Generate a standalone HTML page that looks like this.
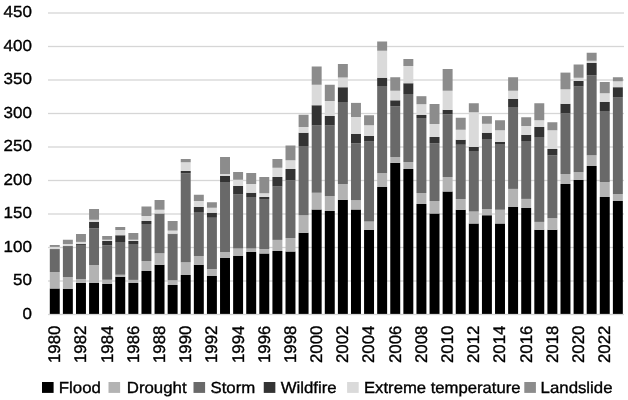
<!DOCTYPE html>
<html><head><meta charset="utf-8"><title>chart</title>
<style>
html,body{margin:0;padding:0;background:#fff;}
body{width:628px;height:400px;overflow:hidden;position:relative;font-family:"Liberation Sans",sans-serif;}
svg{position:absolute;left:0;top:0;will-change:transform;}
text{font-family:"Liberation Sans",sans-serif;font-size:16px;fill:#000;stroke:#000;stroke-width:0.35px;text-rendering:geometricPrecision;}
</style></head><body>
<svg width="628" height="400" viewBox="0 0 628 400">
<rect x="0" y="0" width="628" height="400" fill="#fff"/>
<rect x="48" y="313.85" width="576" height="1.3" fill="#d6d6d6"/>
<text transform="translate(31.9,318.75) scale(1.06,1)" text-anchor="end">0</text>
<rect x="48" y="280.35" width="576" height="1.3" fill="#d6d6d6"/>
<text transform="translate(31.9,285.25) scale(1.06,1)" text-anchor="end">50</text>
<rect x="48" y="246.85" width="576" height="1.3" fill="#d6d6d6"/>
<text transform="translate(31.9,251.75) scale(1.06,1)" text-anchor="end">100</text>
<rect x="48" y="213.35" width="576" height="1.3" fill="#d6d6d6"/>
<text transform="translate(31.9,218.25) scale(1.06,1)" text-anchor="end">150</text>
<rect x="48" y="179.85" width="576" height="1.3" fill="#d6d6d6"/>
<text transform="translate(31.9,184.75) scale(1.06,1)" text-anchor="end">200</text>
<rect x="48" y="146.35" width="576" height="1.3" fill="#d6d6d6"/>
<text transform="translate(31.9,151.25) scale(1.06,1)" text-anchor="end">250</text>
<rect x="48" y="112.85" width="576" height="1.3" fill="#d6d6d6"/>
<text transform="translate(31.9,117.75) scale(1.06,1)" text-anchor="end">300</text>
<rect x="48" y="79.35" width="576" height="1.3" fill="#d6d6d6"/>
<text transform="translate(31.9,84.25) scale(1.06,1)" text-anchor="end">350</text>
<rect x="48" y="45.85" width="576" height="1.3" fill="#d6d6d6"/>
<text transform="translate(31.9,50.75) scale(1.06,1)" text-anchor="end">400</text>
<rect x="48" y="12.35" width="576" height="1.3" fill="#d6d6d6"/>
<text transform="translate(31.9,17.25) scale(1.06,1)" text-anchor="end">450</text>
<rect x="49.80" y="288.50" width="9.95" height="25.40" fill="#000000"/>
<rect x="49.80" y="272.00" width="9.95" height="16.50" fill="#b3b3b3"/>
<rect x="49.80" y="249.20" width="9.95" height="22.80" fill="#696969"/>
<rect x="49.80" y="249.00" width="9.95" height="0.20" fill="#333333"/>
<rect x="49.80" y="246.90" width="9.95" height="2.10" fill="#dadada"/>
<rect x="49.80" y="245.00" width="9.95" height="1.90" fill="#8c8c8c"/>
<text transform="translate(60.17,363.0) rotate(-90) scale(1.05,1.05)">1980</text>
<rect x="62.89" y="289.00" width="9.95" height="24.90" fill="#000000"/>
<rect x="62.89" y="277.00" width="9.95" height="12.00" fill="#b3b3b3"/>
<rect x="62.89" y="246.10" width="9.95" height="30.90" fill="#696969"/>
<rect x="62.89" y="246.00" width="9.95" height="0.10" fill="#333333"/>
<rect x="62.89" y="244.00" width="9.95" height="2.00" fill="#dadada"/>
<rect x="62.89" y="239.75" width="9.95" height="4.25" fill="#8c8c8c"/>
<rect x="75.99" y="282.90" width="9.95" height="31.00" fill="#000000"/>
<rect x="75.99" y="279.00" width="9.95" height="3.90" fill="#b3b3b3"/>
<rect x="75.99" y="244.90" width="9.95" height="34.10" fill="#696969"/>
<rect x="75.99" y="244.00" width="9.95" height="0.90" fill="#333333"/>
<rect x="75.99" y="241.90" width="9.95" height="2.10" fill="#dadada"/>
<rect x="75.99" y="234.00" width="9.95" height="7.90" fill="#8c8c8c"/>
<text transform="translate(86.36,363.0) rotate(-90) scale(1.05,1.05)">1982</text>
<rect x="89.09" y="282.75" width="9.95" height="31.15" fill="#000000"/>
<rect x="89.09" y="265.00" width="9.95" height="17.75" fill="#b3b3b3"/>
<rect x="89.09" y="228.30" width="9.95" height="36.70" fill="#696969"/>
<rect x="89.09" y="222.00" width="9.95" height="6.30" fill="#333333"/>
<rect x="89.09" y="219.75" width="9.95" height="2.25" fill="#dadada"/>
<rect x="89.09" y="209.00" width="9.95" height="10.75" fill="#8c8c8c"/>
<rect x="102.18" y="284.00" width="9.95" height="29.90" fill="#000000"/>
<rect x="102.18" y="279.75" width="9.95" height="4.25" fill="#b3b3b3"/>
<rect x="102.18" y="245.25" width="9.95" height="34.50" fill="#696969"/>
<rect x="102.18" y="241.00" width="9.95" height="4.25" fill="#333333"/>
<rect x="102.18" y="239.75" width="9.95" height="1.25" fill="#dadada"/>
<rect x="102.18" y="236.00" width="9.95" height="3.75" fill="#8c8c8c"/>
<text transform="translate(112.56,363.0) rotate(-90) scale(1.05,1.05)">1984</text>
<rect x="115.28" y="276.75" width="9.95" height="37.15" fill="#000000"/>
<rect x="115.28" y="274.75" width="9.95" height="2.00" fill="#b3b3b3"/>
<rect x="115.28" y="242.00" width="9.95" height="32.75" fill="#696969"/>
<rect x="115.28" y="235.25" width="9.95" height="6.75" fill="#333333"/>
<rect x="115.28" y="230.00" width="9.95" height="5.25" fill="#dadada"/>
<rect x="115.28" y="227.00" width="9.95" height="3.00" fill="#8c8c8c"/>
<rect x="128.37" y="282.75" width="9.95" height="31.15" fill="#000000"/>
<rect x="128.37" y="279.90" width="9.95" height="2.85" fill="#b3b3b3"/>
<rect x="128.37" y="244.00" width="9.95" height="35.90" fill="#696969"/>
<rect x="128.37" y="241.00" width="9.95" height="3.00" fill="#333333"/>
<rect x="128.37" y="239.75" width="9.95" height="1.25" fill="#dadada"/>
<rect x="128.37" y="233.00" width="9.95" height="6.75" fill="#8c8c8c"/>
<text transform="translate(138.75,363.0) rotate(-90) scale(1.05,1.05)">1986</text>
<rect x="141.47" y="271.00" width="9.95" height="42.90" fill="#000000"/>
<rect x="141.47" y="261.00" width="9.95" height="10.00" fill="#b3b3b3"/>
<rect x="141.47" y="224.00" width="9.95" height="37.00" fill="#696969"/>
<rect x="141.47" y="221.00" width="9.95" height="3.00" fill="#333333"/>
<rect x="141.47" y="216.00" width="9.95" height="5.00" fill="#dadada"/>
<rect x="141.47" y="206.50" width="9.95" height="9.50" fill="#8c8c8c"/>
<rect x="154.56" y="264.75" width="9.95" height="49.15" fill="#000000"/>
<rect x="154.56" y="253.25" width="9.95" height="11.50" fill="#b3b3b3"/>
<rect x="154.56" y="213.75" width="9.95" height="39.50" fill="#696969"/>
<rect x="154.56" y="213.50" width="9.95" height="0.25" fill="#333333"/>
<rect x="154.56" y="209.75" width="9.95" height="3.75" fill="#dadada"/>
<rect x="154.56" y="200.00" width="9.95" height="9.75" fill="#8c8c8c"/>
<text transform="translate(164.94,363.0) rotate(-90) scale(1.05,1.05)">1988</text>
<rect x="167.66" y="285.00" width="9.95" height="28.90" fill="#000000"/>
<rect x="167.66" y="280.25" width="9.95" height="4.75" fill="#b3b3b3"/>
<rect x="167.66" y="234.10" width="9.95" height="46.15" fill="#696969"/>
<rect x="167.66" y="233.70" width="9.95" height="0.40" fill="#333333"/>
<rect x="167.66" y="230.60" width="9.95" height="3.10" fill="#dadada"/>
<rect x="167.66" y="221.00" width="9.95" height="9.60" fill="#8c8c8c"/>
<rect x="180.75" y="275.00" width="9.95" height="38.90" fill="#000000"/>
<rect x="180.75" y="262.25" width="9.95" height="12.75" fill="#b3b3b3"/>
<rect x="180.75" y="173.25" width="9.95" height="89.00" fill="#696969"/>
<rect x="180.75" y="171.00" width="9.95" height="2.25" fill="#333333"/>
<rect x="180.75" y="162.25" width="9.95" height="8.75" fill="#dadada"/>
<rect x="180.75" y="159.00" width="9.95" height="3.25" fill="#8c8c8c"/>
<text transform="translate(191.12,363.0) rotate(-90) scale(1.05,1.05)">1990</text>
<rect x="193.85" y="264.75" width="9.95" height="49.15" fill="#000000"/>
<rect x="193.85" y="256.00" width="9.95" height="8.75" fill="#b3b3b3"/>
<rect x="193.85" y="212.00" width="9.95" height="44.00" fill="#696969"/>
<rect x="193.85" y="207.00" width="9.95" height="5.00" fill="#333333"/>
<rect x="193.85" y="201.00" width="9.95" height="6.00" fill="#dadada"/>
<rect x="193.85" y="194.75" width="9.95" height="6.25" fill="#8c8c8c"/>
<rect x="206.94" y="276.00" width="9.95" height="37.90" fill="#000000"/>
<rect x="206.94" y="269.00" width="9.95" height="7.00" fill="#b3b3b3"/>
<rect x="206.94" y="217.75" width="9.95" height="51.25" fill="#696969"/>
<rect x="206.94" y="212.75" width="9.95" height="5.00" fill="#333333"/>
<rect x="206.94" y="207.75" width="9.95" height="5.00" fill="#dadada"/>
<rect x="206.94" y="202.25" width="9.95" height="5.50" fill="#8c8c8c"/>
<text transform="translate(217.31,363.0) rotate(-90) scale(1.05,1.05)">1992</text>
<rect x="220.04" y="258.00" width="9.95" height="55.90" fill="#000000"/>
<rect x="220.04" y="252.00" width="9.95" height="6.00" fill="#b3b3b3"/>
<rect x="220.04" y="182.00" width="9.95" height="70.00" fill="#696969"/>
<rect x="220.04" y="176.00" width="9.95" height="6.00" fill="#333333"/>
<rect x="220.04" y="174.00" width="9.95" height="2.00" fill="#dadada"/>
<rect x="220.04" y="157.00" width="9.95" height="17.00" fill="#8c8c8c"/>
<rect x="233.13" y="256.00" width="9.95" height="57.90" fill="#000000"/>
<rect x="233.13" y="248.50" width="9.95" height="7.50" fill="#b3b3b3"/>
<rect x="233.13" y="194.50" width="9.95" height="54.00" fill="#696969"/>
<rect x="233.13" y="186.00" width="9.95" height="8.50" fill="#333333"/>
<rect x="233.13" y="179.75" width="9.95" height="6.25" fill="#dadada"/>
<rect x="233.13" y="172.00" width="9.95" height="7.75" fill="#8c8c8c"/>
<text transform="translate(243.50,363.0) rotate(-90) scale(1.05,1.05)">1994</text>
<rect x="246.23" y="252.00" width="9.95" height="61.90" fill="#000000"/>
<rect x="246.23" y="248.50" width="9.95" height="3.50" fill="#b3b3b3"/>
<rect x="246.23" y="197.00" width="9.95" height="51.50" fill="#696969"/>
<rect x="246.23" y="192.75" width="9.95" height="4.25" fill="#333333"/>
<rect x="246.23" y="184.00" width="9.95" height="8.75" fill="#dadada"/>
<rect x="246.23" y="173.00" width="9.95" height="11.00" fill="#8c8c8c"/>
<rect x="259.32" y="253.50" width="9.95" height="60.40" fill="#000000"/>
<rect x="259.32" y="249.00" width="9.95" height="4.50" fill="#b3b3b3"/>
<rect x="259.32" y="199.00" width="9.95" height="50.00" fill="#696969"/>
<rect x="259.32" y="197.00" width="9.95" height="2.00" fill="#333333"/>
<rect x="259.32" y="193.25" width="9.95" height="3.75" fill="#dadada"/>
<rect x="259.32" y="177.00" width="9.95" height="16.25" fill="#8c8c8c"/>
<text transform="translate(269.69,363.0) rotate(-90) scale(1.05,1.05)">1996</text>
<rect x="272.42" y="251.00" width="9.95" height="62.90" fill="#000000"/>
<rect x="272.42" y="239.90" width="9.95" height="11.10" fill="#b3b3b3"/>
<rect x="272.42" y="186.50" width="9.95" height="53.40" fill="#696969"/>
<rect x="272.42" y="177.00" width="9.95" height="9.50" fill="#333333"/>
<rect x="272.42" y="167.75" width="9.95" height="9.25" fill="#dadada"/>
<rect x="272.42" y="159.00" width="9.95" height="8.75" fill="#8c8c8c"/>
<rect x="285.51" y="251.50" width="9.95" height="62.40" fill="#000000"/>
<rect x="285.51" y="238.00" width="9.95" height="13.50" fill="#b3b3b3"/>
<rect x="285.51" y="180.25" width="9.95" height="57.75" fill="#696969"/>
<rect x="285.51" y="169.00" width="9.95" height="11.25" fill="#333333"/>
<rect x="285.51" y="160.25" width="9.95" height="8.75" fill="#dadada"/>
<rect x="285.51" y="145.50" width="9.95" height="14.75" fill="#8c8c8c"/>
<text transform="translate(295.88,363.0) rotate(-90) scale(1.05,1.05)">1998</text>
<rect x="298.61" y="232.75" width="9.95" height="81.15" fill="#000000"/>
<rect x="298.61" y="215.25" width="9.95" height="17.50" fill="#b3b3b3"/>
<rect x="298.61" y="146.00" width="9.95" height="69.25" fill="#696969"/>
<rect x="298.61" y="132.75" width="9.95" height="13.25" fill="#333333"/>
<rect x="298.61" y="127.00" width="9.95" height="5.75" fill="#dadada"/>
<rect x="298.61" y="114.75" width="9.95" height="12.25" fill="#8c8c8c"/>
<rect x="311.70" y="209.50" width="9.95" height="104.40" fill="#000000"/>
<rect x="311.70" y="192.75" width="9.95" height="16.75" fill="#b3b3b3"/>
<rect x="311.70" y="125.50" width="9.95" height="67.25" fill="#696969"/>
<rect x="311.70" y="105.25" width="9.95" height="20.25" fill="#333333"/>
<rect x="311.70" y="84.75" width="9.95" height="20.50" fill="#dadada"/>
<rect x="311.70" y="66.50" width="9.95" height="18.25" fill="#8c8c8c"/>
<text transform="translate(322.08,363.0) rotate(-90) scale(1.05,1.05)">2000</text>
<rect x="324.80" y="211.00" width="9.95" height="102.90" fill="#000000"/>
<rect x="324.80" y="196.00" width="9.95" height="15.00" fill="#b3b3b3"/>
<rect x="324.80" y="125.50" width="9.95" height="70.50" fill="#696969"/>
<rect x="324.80" y="116.00" width="9.95" height="9.50" fill="#333333"/>
<rect x="324.80" y="101.00" width="9.95" height="15.00" fill="#dadada"/>
<rect x="324.80" y="84.75" width="9.95" height="16.25" fill="#8c8c8c"/>
<rect x="337.89" y="199.75" width="9.95" height="114.15" fill="#000000"/>
<rect x="337.89" y="184.00" width="9.95" height="15.75" fill="#b3b3b3"/>
<rect x="337.89" y="102.00" width="9.95" height="82.00" fill="#696969"/>
<rect x="337.89" y="87.25" width="9.95" height="14.75" fill="#333333"/>
<rect x="337.89" y="77.50" width="9.95" height="9.75" fill="#dadada"/>
<rect x="337.89" y="64.00" width="9.95" height="13.50" fill="#8c8c8c"/>
<text transform="translate(348.27,363.0) rotate(-90) scale(1.05,1.05)">2002</text>
<rect x="350.99" y="209.50" width="9.95" height="104.40" fill="#000000"/>
<rect x="350.99" y="200.20" width="9.95" height="9.30" fill="#b3b3b3"/>
<rect x="350.99" y="143.30" width="9.95" height="56.90" fill="#696969"/>
<rect x="350.99" y="133.80" width="9.95" height="9.50" fill="#333333"/>
<rect x="350.99" y="117.00" width="9.95" height="16.80" fill="#dadada"/>
<rect x="350.99" y="102.90" width="9.95" height="14.10" fill="#8c8c8c"/>
<rect x="364.08" y="229.75" width="9.95" height="84.15" fill="#000000"/>
<rect x="364.08" y="221.50" width="9.95" height="8.25" fill="#b3b3b3"/>
<rect x="364.08" y="141.10" width="9.95" height="80.40" fill="#696969"/>
<rect x="364.08" y="136.00" width="9.95" height="5.10" fill="#333333"/>
<rect x="364.08" y="125.25" width="9.95" height="10.75" fill="#dadada"/>
<rect x="364.08" y="115.25" width="9.95" height="10.00" fill="#8c8c8c"/>
<text transform="translate(374.46,363.0) rotate(-90) scale(1.05,1.05)">2004</text>
<rect x="377.18" y="187.00" width="9.95" height="126.90" fill="#000000"/>
<rect x="377.18" y="173.10" width="9.95" height="13.90" fill="#b3b3b3"/>
<rect x="377.18" y="86.00" width="9.95" height="87.10" fill="#696969"/>
<rect x="377.18" y="77.75" width="9.95" height="8.25" fill="#333333"/>
<rect x="377.18" y="50.75" width="9.95" height="27.00" fill="#dadada"/>
<rect x="377.18" y="41.50" width="9.95" height="9.25" fill="#8c8c8c"/>
<rect x="390.27" y="162.90" width="9.95" height="151.00" fill="#000000"/>
<rect x="390.27" y="157.00" width="9.95" height="5.90" fill="#b3b3b3"/>
<rect x="390.27" y="106.20" width="9.95" height="50.80" fill="#696969"/>
<rect x="390.27" y="100.30" width="9.95" height="5.90" fill="#333333"/>
<rect x="390.27" y="90.75" width="9.95" height="9.55" fill="#dadada"/>
<rect x="390.27" y="77.25" width="9.95" height="13.50" fill="#8c8c8c"/>
<text transform="translate(400.65,363.0) rotate(-90) scale(1.05,1.05)">2006</text>
<rect x="403.37" y="169.00" width="9.95" height="144.90" fill="#000000"/>
<rect x="403.37" y="162.00" width="9.95" height="7.00" fill="#b3b3b3"/>
<rect x="403.37" y="94.00" width="9.95" height="68.00" fill="#696969"/>
<rect x="403.37" y="83.25" width="9.95" height="10.75" fill="#333333"/>
<rect x="403.37" y="66.00" width="9.95" height="17.25" fill="#dadada"/>
<rect x="403.37" y="59.00" width="9.95" height="7.00" fill="#8c8c8c"/>
<rect x="416.46" y="204.00" width="9.95" height="109.90" fill="#000000"/>
<rect x="416.46" y="193.00" width="9.95" height="11.00" fill="#b3b3b3"/>
<rect x="416.46" y="118.00" width="9.95" height="75.00" fill="#696969"/>
<rect x="416.46" y="115.00" width="9.95" height="3.00" fill="#333333"/>
<rect x="416.46" y="104.20" width="9.95" height="10.80" fill="#dadada"/>
<rect x="416.46" y="96.20" width="9.95" height="8.00" fill="#8c8c8c"/>
<text transform="translate(426.84,363.0) rotate(-90) scale(1.05,1.05)">2008</text>
<rect x="429.56" y="213.50" width="9.95" height="100.40" fill="#000000"/>
<rect x="429.56" y="201.00" width="9.95" height="12.50" fill="#b3b3b3"/>
<rect x="429.56" y="143.20" width="9.95" height="57.80" fill="#696969"/>
<rect x="429.56" y="137.00" width="9.95" height="6.20" fill="#333333"/>
<rect x="429.56" y="124.00" width="9.95" height="13.00" fill="#dadada"/>
<rect x="429.56" y="104.00" width="9.95" height="20.00" fill="#8c8c8c"/>
<rect x="442.65" y="191.50" width="9.95" height="122.40" fill="#000000"/>
<rect x="442.65" y="177.00" width="9.95" height="14.50" fill="#b3b3b3"/>
<rect x="442.65" y="114.30" width="9.95" height="62.70" fill="#696969"/>
<rect x="442.65" y="109.90" width="9.95" height="4.40" fill="#333333"/>
<rect x="442.65" y="90.75" width="9.95" height="19.15" fill="#dadada"/>
<rect x="442.65" y="69.00" width="9.95" height="21.75" fill="#8c8c8c"/>
<text transform="translate(453.03,363.0) rotate(-90) scale(1.05,1.05)">2010</text>
<rect x="455.75" y="209.75" width="9.95" height="104.15" fill="#000000"/>
<rect x="455.75" y="199.00" width="9.95" height="10.75" fill="#b3b3b3"/>
<rect x="455.75" y="144.75" width="9.95" height="54.25" fill="#696969"/>
<rect x="455.75" y="139.75" width="9.95" height="5.00" fill="#333333"/>
<rect x="455.75" y="129.75" width="9.95" height="10.00" fill="#dadada"/>
<rect x="455.75" y="117.75" width="9.95" height="12.00" fill="#8c8c8c"/>
<rect x="468.84" y="223.50" width="9.95" height="90.40" fill="#000000"/>
<rect x="468.84" y="211.50" width="9.95" height="12.00" fill="#b3b3b3"/>
<rect x="468.84" y="151.00" width="9.95" height="60.50" fill="#696969"/>
<rect x="468.84" y="147.00" width="9.95" height="4.00" fill="#333333"/>
<rect x="468.84" y="112.25" width="9.95" height="34.75" fill="#dadada"/>
<rect x="468.84" y="103.25" width="9.95" height="9.00" fill="#8c8c8c"/>
<text transform="translate(479.22,363.0) rotate(-90) scale(1.05,1.05)">2012</text>
<rect x="481.94" y="215.25" width="9.95" height="98.65" fill="#000000"/>
<rect x="481.94" y="209.00" width="9.95" height="6.25" fill="#b3b3b3"/>
<rect x="481.94" y="139.00" width="9.95" height="70.00" fill="#696969"/>
<rect x="481.94" y="132.75" width="9.95" height="6.25" fill="#333333"/>
<rect x="481.94" y="123.80" width="9.95" height="8.95" fill="#dadada"/>
<rect x="481.94" y="116.10" width="9.95" height="7.70" fill="#8c8c8c"/>
<rect x="495.03" y="223.50" width="9.95" height="90.40" fill="#000000"/>
<rect x="495.03" y="209.75" width="9.95" height="13.75" fill="#b3b3b3"/>
<rect x="495.03" y="144.00" width="9.95" height="65.75" fill="#696969"/>
<rect x="495.03" y="142.00" width="9.95" height="2.00" fill="#333333"/>
<rect x="495.03" y="130.25" width="9.95" height="11.75" fill="#dadada"/>
<rect x="495.03" y="120.25" width="9.95" height="10.00" fill="#8c8c8c"/>
<text transform="translate(505.41,363.0) rotate(-90) scale(1.05,1.05)">2014</text>
<rect x="508.13" y="207.00" width="9.95" height="106.90" fill="#000000"/>
<rect x="508.13" y="188.90" width="9.95" height="18.10" fill="#b3b3b3"/>
<rect x="508.13" y="107.00" width="9.95" height="81.90" fill="#696969"/>
<rect x="508.13" y="99.00" width="9.95" height="8.00" fill="#333333"/>
<rect x="508.13" y="90.75" width="9.95" height="8.25" fill="#dadada"/>
<rect x="508.13" y="77.25" width="9.95" height="13.50" fill="#8c8c8c"/>
<rect x="521.22" y="208.00" width="9.95" height="105.90" fill="#000000"/>
<rect x="521.22" y="198.90" width="9.95" height="9.10" fill="#b3b3b3"/>
<rect x="521.22" y="141.00" width="9.95" height="57.90" fill="#696969"/>
<rect x="521.22" y="134.80" width="9.95" height="6.20" fill="#333333"/>
<rect x="521.22" y="126.00" width="9.95" height="8.80" fill="#dadada"/>
<rect x="521.22" y="117.25" width="9.95" height="8.75" fill="#8c8c8c"/>
<text transform="translate(531.60,363.0) rotate(-90) scale(1.05,1.05)">2016</text>
<rect x="534.32" y="229.75" width="9.95" height="84.15" fill="#000000"/>
<rect x="534.32" y="221.90" width="9.95" height="7.85" fill="#b3b3b3"/>
<rect x="534.32" y="137.00" width="9.95" height="84.90" fill="#696969"/>
<rect x="534.32" y="127.00" width="9.95" height="10.00" fill="#333333"/>
<rect x="534.32" y="120.25" width="9.95" height="6.75" fill="#dadada"/>
<rect x="534.32" y="103.25" width="9.95" height="17.00" fill="#8c8c8c"/>
<rect x="547.41" y="229.75" width="9.95" height="84.15" fill="#000000"/>
<rect x="547.41" y="218.20" width="9.95" height="11.55" fill="#b3b3b3"/>
<rect x="547.41" y="155.25" width="9.95" height="62.95" fill="#696969"/>
<rect x="547.41" y="149.00" width="9.95" height="6.25" fill="#333333"/>
<rect x="547.41" y="130.25" width="9.95" height="18.75" fill="#dadada"/>
<rect x="547.41" y="122.25" width="9.95" height="8.00" fill="#8c8c8c"/>
<text transform="translate(557.78,363.0) rotate(-90) scale(1.05,1.05)">2018</text>
<rect x="560.50" y="184.00" width="9.95" height="129.90" fill="#000000"/>
<rect x="560.50" y="174.00" width="9.95" height="10.00" fill="#b3b3b3"/>
<rect x="560.50" y="113.40" width="9.95" height="60.60" fill="#696969"/>
<rect x="560.50" y="103.80" width="9.95" height="9.60" fill="#333333"/>
<rect x="560.50" y="89.30" width="9.95" height="14.50" fill="#dadada"/>
<rect x="560.50" y="72.60" width="9.95" height="16.70" fill="#8c8c8c"/>
<rect x="573.60" y="180.00" width="9.95" height="133.90" fill="#000000"/>
<rect x="573.60" y="172.10" width="9.95" height="7.90" fill="#b3b3b3"/>
<rect x="573.60" y="86.50" width="9.95" height="85.60" fill="#696969"/>
<rect x="573.60" y="81.00" width="9.95" height="5.50" fill="#333333"/>
<rect x="573.60" y="77.75" width="9.95" height="3.25" fill="#dadada"/>
<rect x="573.60" y="64.50" width="9.95" height="13.25" fill="#8c8c8c"/>
<text transform="translate(583.98,363.0) rotate(-90) scale(1.05,1.05)">2020</text>
<rect x="586.69" y="166.00" width="9.95" height="147.90" fill="#000000"/>
<rect x="586.69" y="155.25" width="9.95" height="10.75" fill="#b3b3b3"/>
<rect x="586.69" y="75.25" width="9.95" height="80.00" fill="#696969"/>
<rect x="586.69" y="63.00" width="9.95" height="12.25" fill="#333333"/>
<rect x="586.69" y="60.75" width="9.95" height="2.25" fill="#dadada"/>
<rect x="586.69" y="52.75" width="9.95" height="8.00" fill="#8c8c8c"/>
<rect x="599.79" y="197.00" width="9.95" height="116.90" fill="#000000"/>
<rect x="599.79" y="182.00" width="9.95" height="15.00" fill="#b3b3b3"/>
<rect x="599.79" y="111.00" width="9.95" height="71.00" fill="#696969"/>
<rect x="599.79" y="102.00" width="9.95" height="9.00" fill="#333333"/>
<rect x="599.79" y="93.25" width="9.95" height="8.75" fill="#dadada"/>
<rect x="599.79" y="82.00" width="9.95" height="11.25" fill="#8c8c8c"/>
<text transform="translate(610.16,363.0) rotate(-90) scale(1.05,1.05)">2022</text>
<rect x="612.88" y="201.00" width="9.95" height="112.90" fill="#000000"/>
<rect x="612.88" y="194.00" width="9.95" height="7.00" fill="#b3b3b3"/>
<rect x="612.88" y="97.10" width="9.95" height="96.90" fill="#696969"/>
<rect x="612.88" y="87.20" width="9.95" height="9.90" fill="#333333"/>
<rect x="612.88" y="81.30" width="9.95" height="5.90" fill="#dadada"/>
<rect x="612.88" y="77.25" width="9.95" height="4.05" fill="#8c8c8c"/>
<rect x="42.0" y="382" width="11.6" height="10.9" fill="#000000"/>
<text transform="translate(58.8,392.75) scale(1.05,1)">Flood</text>
<rect x="108.5" y="382" width="11.6" height="10.9" fill="#b3b3b3"/>
<text transform="translate(126.8,392.75) scale(1.05,1)">Drought</text>
<rect x="193.5" y="382" width="11.6" height="10.9" fill="#696969"/>
<text transform="translate(210.5,392.75) scale(1.05,1)">Storm</text>
<rect x="263.75" y="382" width="11.6" height="10.9" fill="#333333"/>
<text transform="translate(280.7,392.75) scale(1.05,1)">Wildfire</text>
<rect x="347.1" y="382" width="11.6" height="10.9" fill="#dadada"/>
<text transform="translate(364,392.75) scale(1.042,1)">Extreme temperature</text>
<rect x="524.3" y="382" width="11.6" height="10.9" fill="#8c8c8c"/>
<text transform="translate(540.6,392.75) scale(1.05,1)">Landslide</text>
</svg></body></html>
